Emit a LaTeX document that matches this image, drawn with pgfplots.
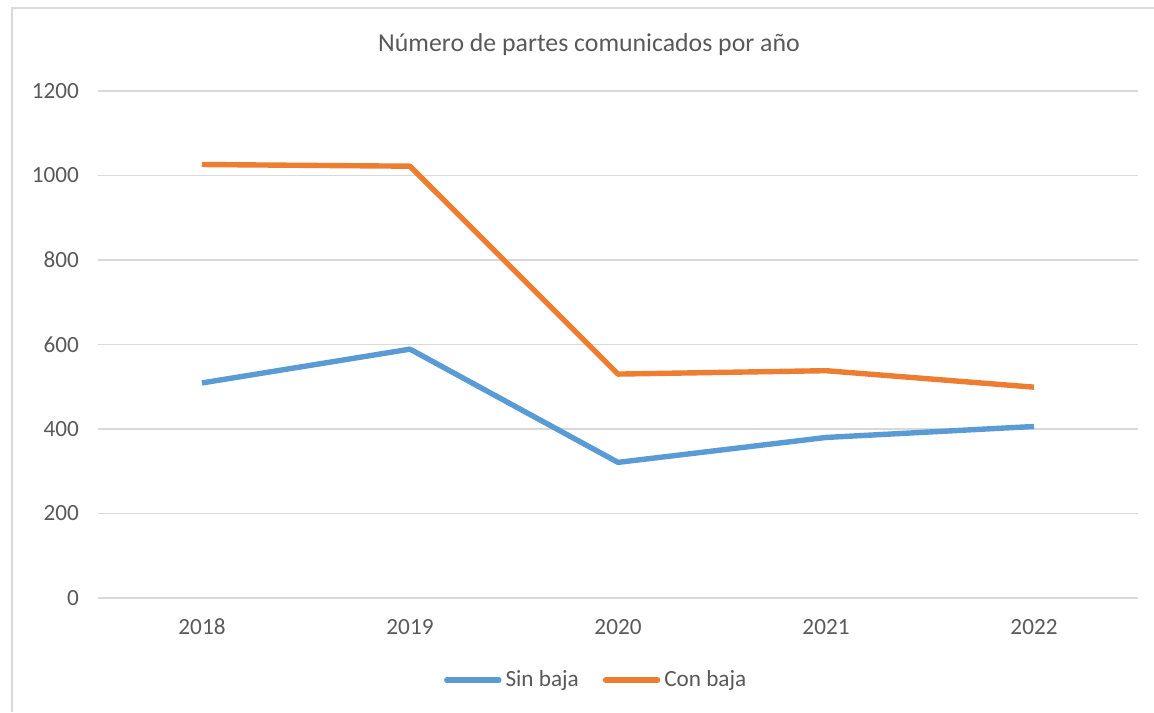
\documentclass[border=0pt]{standalone}
\usepackage{pgfplots}
\pgfplotsset{compat=1.18}
\usepackage{fontspec}
\setmainfont{Carlito}
\definecolor{sinbaja}{HTML}{5B9BD5}
\definecolor{conbaja}{HTML}{ED7D31}
\definecolor{gridgray}{HTML}{D9D9D9}
\definecolor{txt}{HTML}{595959}
\begin{document}
\begin{tikzpicture}[x=1pt,y=1pt]
\useasboundingbox (0,0) rectangle (577,356);
\draw[gridgray, line width=1.2pt] (6,0) -- (6,352) -- (577,352);
\node[txt, font=\fontsize{12.9}{14}\selectfont] at (294.5,333.5) {Número de partes comunicados por año};
\begin{axis}[
    at={(49pt,57pt)}, anchor=south west,
    scale only axis,
    width=520pt, height=253.5pt,
    xmin=-0.5, xmax=4.5,
    ymin=0, ymax=1200,
    ytick={0,200,...,1200},
    xtick={0,1,2,3,4},
    xticklabels={2018,2019,2020,2021,2022},
    axis line style={draw=none},
    major tick length=0pt,
    ymajorgrids,
    grid style={gridgray, line width=0.8pt},
    tick label style={txt, font=\fontsize{11.6}{13}\selectfont},
    /pgf/number format/assume math mode=true,
    /pgf/number format/1000 sep={},
    yticklabel style={xshift=-6pt},
    xticklabel style={yshift=-7pt},
    legend style={at={(0.48,-0.162)}, anchor=center, draw=none,
      legend columns=2, font=\fontsize{11.6}{13}\selectfont, text=txt,
      /tikz/every even column/.append style={column sep=10pt}},
    legend image code/.code={\draw[#1, line cap=round] (0pt,0pt) -- (26pt,0pt);},
    legend cell align=left,
]
\addplot[sinbaja, line width=2.7pt, line join=round] coordinates {
    (0,509) (1,589) (2,321) (3,380) (4,406)
};
\addlegendentry{Sin baja}
\addplot[conbaja, line width=2.7pt, line join=round] coordinates {
    (0,1026) (1,1022) (2,530) (3,538) (4,499)
};
\addlegendentry{Con baja}
\end{axis}
\end{tikzpicture}
\end{document}
